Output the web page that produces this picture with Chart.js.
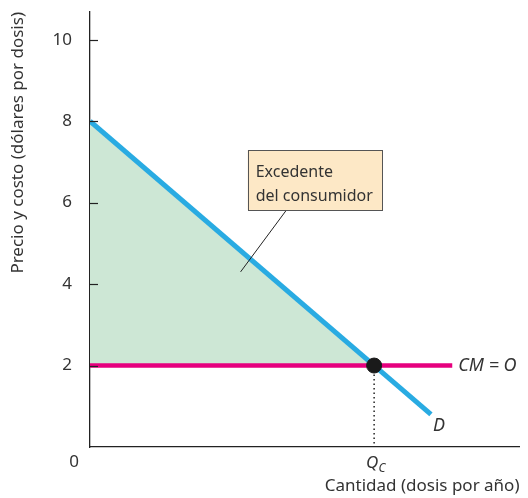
<!DOCTYPE html>
<html>
<head>
<meta charset="utf-8">
<script src="https://cdn.jsdelivr.net/npm/chart.js@4/dist/chart.umd.min.js"></script>
<style>
  body { margin: 0; background: #fff; }
  canvas { display: block; }
</style>
</head>
<body>
<canvas id="surplusChart" width="528" height="498"></canvas>
<script>
// Excedente del consumidor: demanda D y costo marginal CM = O

// ---- datos ----
const demandLine = [{ x: 0, y: 8 }, { x: 7.2, y: 0.8 }];
const costLine = [{ x: 0, y: 2 }, { x: 7.65, y: 2 }];
const surplusEdge = [{ x: 0, y: 8 }, { x: 6, y: 2 }];
const equilibrium = [{ x: 6, y: 2 }];
const qcDrop = [{ x: 6, y: 2 }, { x: 6, y: 0 }];
const leaderLine = [{ x: 4.15, y: 5.82 }, { x: 3.18, y: 4.3 }];
const yTicks = [0, 2, 4, 6, 8, 10];
const calloutText = ['Excedente', 'del consumidor'];
const xTitle = 'Cantidad (dosis por año)';
const yTitle = 'Precio y costo (dólares por dosis)';

const FONT = '"Noto Sans", "DejaVu Sans", sans-serif';
const TEXT = '#333';

// рисуем то, чего нет в Chart.js: засечки внутрь, "0", Q_C, подписи, выноска
const extrasPlugin = {
    id: 'extras',
    afterDatasetsDraw(chart) {
        const { ctx, scales: { x, y } } = chart;
        ctx.save();

        // засечки оси Y внутрь
        ctx.strokeStyle = '#222';
        ctx.lineWidth = 1.2;
        yTicks.slice(1).forEach(v => {
            const py = Math.round(y.getPixelForValue(v)) + 0.5;
            ctx.beginPath();
            ctx.moveTo(x.left, py);
            ctx.lineTo(x.left + 8, py);
            ctx.stroke();
        });

        // origin label
        ctx.fillStyle = TEXT;
        ctx.font = '17px ' + FONT;
        ctx.textAlign = 'right';
        ctx.textBaseline = 'middle';
        ctx.fillText('0', x.left - 11, y.bottom + 15);

        // Q_C
        const qx = x.getPixelForValue(equilibrium[0].x);
        ctx.textAlign = 'center';
        ctx.font = 'italic 17px ' + FONT;
        ctx.fillText('Q', qx - 2, y.bottom + 16);
        ctx.font = 'italic 12px ' + FONT;
        ctx.fillText('C', qx + 8, y.bottom + 22);

        // CM = O, D
        ctx.textAlign = 'left';
        ctx.font = 'italic 18px ' + FONT;
        ctx.fillText('CM = O', x.getPixelForValue(costLine[1].x) + 6, y.getPixelForValue(costLine[1].y));
        ctx.fillText('D', x.getPixelForValue(demandLine[1].x) + 2, y.getPixelForValue(demandLine[1].y) + 11);

        // выноска
        const bx = x.getPixelForValue(3.33), by = y.getPixelForValue(7.29);
        const bw = x.getPixelForValue(6.17) - bx, bh = y.getPixelForValue(5.82) - by;
        ctx.fillStyle = '#fde8c6';
        ctx.fillRect(bx, by, bw, bh);
        ctx.strokeStyle = '#555';
        ctx.lineWidth = 1;
        ctx.strokeRect(Math.round(bx) + 0.5, Math.round(by) + 0.5, Math.round(bw), Math.round(bh));
        ctx.fillStyle = TEXT;
        ctx.font = '16px ' + FONT;
        ctx.textBaseline = 'middle';
        calloutText.forEach((t, i) => ctx.fillText(t, bx + 8, by + 22 + i * 24));

        ctx.restore();
    }
};

new Chart(document.getElementById('surplusChart'), {
    type: 'scatter',
    data: {
        datasets: [
            {
                label: 'Excedente del consumidor',
                data: surplusEdge,
                showLine: true,
                borderWidth: 0,
                pointRadius: 0,
                backgroundColor: '#cde7d5',
                fill: { value: 2 },
                order: 5
            },
            {
                label: 'CM = O',
                data: costLine,
                showLine: true,
                borderColor: '#e6007e',
                borderWidth: 4.5,
                pointRadius: 0,
                borderCapStyle: 'butt',
                order: 3
            },
            {
                label: 'D',
                data: demandLine,
                showLine: true,
                borderColor: '#29abe2',
                borderWidth: 5,
                pointRadius: 0,
                borderCapStyle: 'butt',
                order: 2
            },
            {
                label: 'Qc',
                data: qcDrop,
                showLine: true,
                borderColor: '#222',
                borderWidth: 1.5,
                borderDash: [1.5, 3],
                pointRadius: 0,
                order: 4
            },
            {
                label: 'leader',
                data: leaderLine,
                showLine: true,
                borderColor: '#222',
                borderWidth: 1,
                pointRadius: 0,
                order: 1
            },
            {
                label: 'equilibrio',
                data: equilibrium,
                pointRadius: 7.5,
                pointBackgroundColor: '#1a1a1a',
                pointBorderColor: '#1a1a1a',
                order: 0
            }
        ]
    },
    options: {
        responsive: false,
        animation: false,
        events: [],
        layout: { padding: { top: 12, right: 7, left: 0, bottom: 0 } },
        plugins: {
            legend: { display: false },
            tooltip: { enabled: false }
        },
        scales: {
            x: {
                type: 'linear',
                min: 0,
                max: 9.07,
                grid: { display: false },
                border: { display: true, color: '#222', width: 1.3 },
                ticks: { display: false },
                title: {
                    display: true,
                    text: xTitle,
                    align: 'end',
                    color: TEXT,
                    font: { family: FONT, size: 17 },
                    padding: { top: 0, bottom: 2 }
                },
                afterFit(scale) { scale.height = 51; }
            },
            y: {
                type: 'linear',
                min: 0,
                max: 10.68,
                grid: { display: false },
                border: { display: true, color: '#222', width: 1.3 },
                afterBuildTicks(scale) {
                    scale.ticks = yTicks.map(v => ({ value: v }));
                },
                ticks: {
                    padding: 10,
                    color: TEXT,
                    font: { family: FONT, size: 17 },
                    callback: v => (v === 0 ? '' : v)
                },
                title: {
                    display: true,
                    text: yTitle,
                    align: 'end',
                    color: TEXT,
                    font: { family: FONT, size: 17 },
                    padding: { top: 8, bottom: 0 }
                },
                afterFit(scale) {
                    scale.width = 90;
                    scale.paddingTop = 0;
                    scale.paddingBottom = 0;
                }
            }
        }
    },
    plugins: [extrasPlugin]
});
</script>
</body>
</html>
